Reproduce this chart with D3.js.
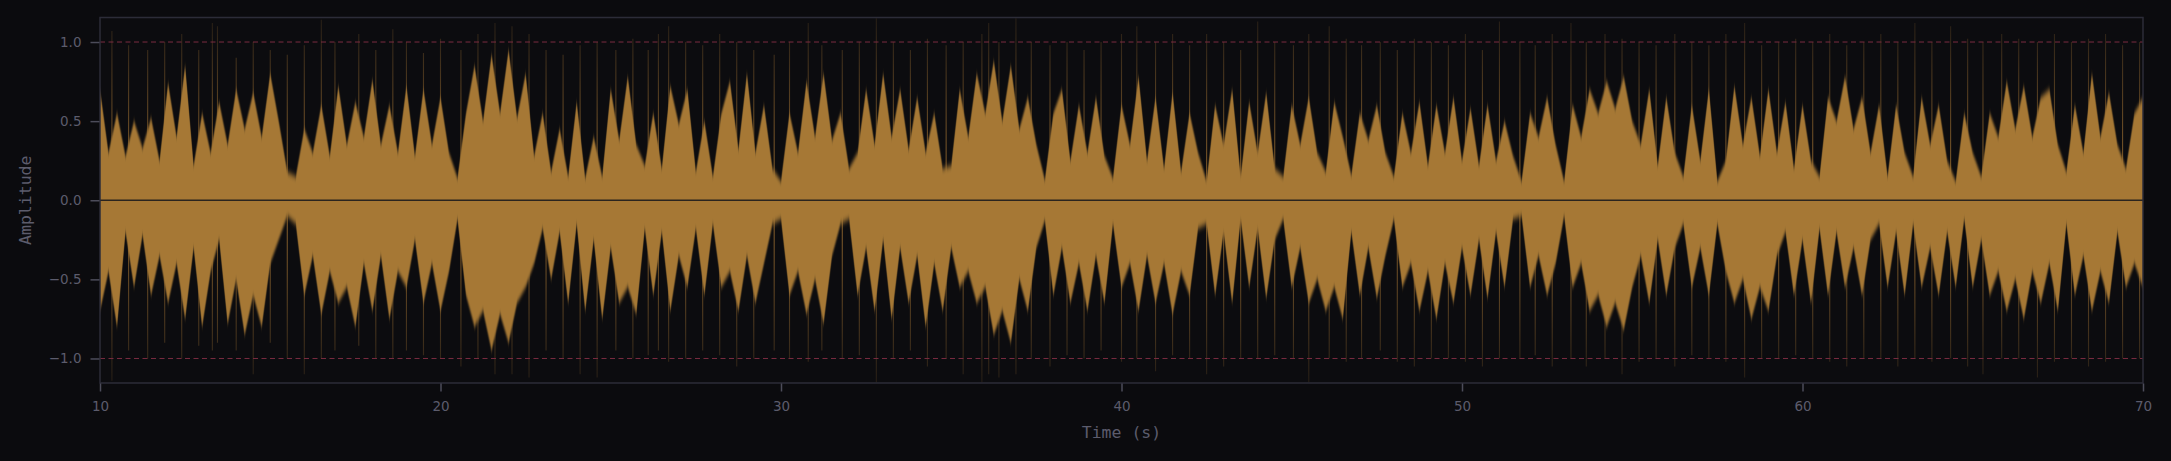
<!DOCTYPE html>
<html><head><meta charset="utf-8">
<script src="https://cdn.jsdelivr.net/npm/d3@7"></script>
<style>html,body{margin:0;padding:0;background:#0b0b0e;} svg{display:block}</style>
</head><body>
<svg id="chart" width="2171" height="461"></svg>
<script>
// ---- data ----
const sampleStart = 10;      // seconds
const sampleStep = 0.25;     // seconds between envelope samples
// positive envelope (peak amplitude above zero), one row per second
const envTop = [
 .70,.30,.55,.28, .50,.33,.52,.25, .74,.40,.85,.22, .55,.30,.62,.35, .70,.45,.68,.40,
 .80,.50,.18,.15, .45,.30,.60,.28, .72,.35,.62,.40, .76,.35,.60,.30, .72,.28,.70,.35,
 .65,.30,.14,.55, .85,.50,.92,.55, .95,.52,.80,.28, .55,.18,.45,.15, .62,.14,.40,.15,
 .70,.38,.78,.35, .22,.55,.20,.72, .48,.70,.18,.50, .15,.55,.75,.32, .80,.30,.60,.20,
 .12,.55,.30,.75, .40,.80,.38,.55, .20,.30,.70,.35, .80,.40,.70,.32, .65,.30,.55,.20,
 .22,.70,.40,.80, .55,.88,.50,.85, .45,.65,.35,.13, .55,.70,.25,.60, .30,.65,.28,.14,
 .60,.35,.78,.25, .65,.20,.68,.18, .55,.30,.12,.60, .35,.70,.15,.62, .30,.68,.20,.15,
 .60,.35,.65,.30, .18,.62,.40,.16, .55,.38,.60,.30, .15,.55,.30,.62, .22,.60,.30,.65,
 .25,.58,.22,.60, .25,.50,.28,.12, .55,.40,.65,.35, .12,.60,.40,.70, .55,.75,.58,.78,
 .50,.35,.70,.22, .65,.30,.15,.60, .25,.70,.12,.25, .72,.35,.65,.28, .70,.30,.62,.20,
 .60,.25,.15,.65, .50,.78,.45,.65, .30,.60,.15,.60, .30,.15,.65,.35, .60,.25,.12,.55,
 .30,.15,.55,.40, .75,.45,.72,.40, .65,.70,.35,.18, .60,.30,.80,.40, .68,.35,.20,.55,
 .65
];
// negative envelope (peak amplitude below zero, as magnitude)
const envBot = [
 .70,.45,.80,.20, .55,.22,.60,.35, .65,.40,.75,.30, .80,.45,.25,.78, .50,.85,.60,.80,
 .40,.25,.10,.15, .60,.35,.72,.45, .65,.55,.80,.40, .70,.35,.75,.45, .55,.25,.65,.40,
 .70,.45,.12,.60, .80,.70,.95,.72, .90,.65,.55,.40, .18,.50,.20,.65, .15,.70,.25,.75,
 .30,.65,.55,.72, .18,.60,.20,.70, .35,.55,.18,.60, .15,.55,.45,.70, .35,.65,.40,.15,
 .12,.60,.45,.72, .50,.78,.35,.15, .12,.60,.30,.70, .25,.75,.30,.65, .35,.80,.40,.70,
 .30,.55,.45,.65, .55,.85,.70,.90, .50,.70,.30,.13, .60,.30,.65,.40, .70,.35,.65,.15,
 .55,.40,.70,.35, .65,.40,.72,.45, .60,.18,.15,.60, .20,.65,.12,.55, .18,.62,.25,.12,
 .55,.30,.65,.50, .70,.55,.75,.20, .60,.30,.62,.35, .12,.55,.40,.70, .45,.75,.40,.65,
 .30,.60,.25,.62, .20,.55,.12,.10, .55,.35,.60,.40, .10,.55,.40,.70, .60,.80,.65,.82,
 .55,.35,.65,.25, .60,.30,.15,.55, .30,.60,.15,.45, .65,.50,.75,.55, .70,.35,.20,.60,
 .25,.65,.18,.60, .20,.55,.30,.60, .25,.15,.55,.20, .60,.15,.55,.30, .60,.20,.55,.12,
 .55,.25,.60,.45, .70,.50,.75,.45, .65,.40,.70,.15, .60,.35,.70,.45, .65,.20,.55,.40,
 .55
];
// thin transient spikes: time, peak above zero, peak below zero (magnitude)
const clickTimes = [10.35,10.84,11.4,11.9,12.4,12.9,13.3,13.45,14.0,14.5,15.0,15.5,16.0,16.5,16.9,17.6,18.1,18.6,
 19.0,19.5,20.0,20.6,21.1,21.6,22.1,22.6,23.1,23.6,24.1,24.6,25.15,25.65,26.1,26.4,26.7,27.2,27.7,28.2,
 28.7,29.2,29.8,30.25,30.8,31.2,31.8,32.3,32.8,33.3,33.8,34.3,34.85,35.35,35.9,36.1,36.4,36.9,37.35,37.9,
 38.4,38.9,39.4,40.0,40.45,41.0,41.5,42.0,42.5,43.0,43.5,44.0,44.5,45.05,45.5,46.1,46.6,47.05,47.6,
 48.1,48.6,49.1,49.6,50.1,50.6,51.1,51.7,52.15,52.65,53.2,53.65,54.2,54.7,55.2,55.7,56.25,56.75,57.25,
 57.75,58.3,58.8,59.3,59.8,60.3,60.8,61.3,61.8,62.3,62.8,63.3,63.8,64.35,64.85,65.3,65.85,66.35,66.9,
 67.4,67.9,68.4,68.9,69.4,69.9];
const clickTop = [1.07,0.98,0.95,1.0,1.05,0.95,1.12,1.1,0.9,1.0,0.95,0.92,0.98,1.14,1.0,1.05,0.95,1.08,
 1.0,0.93,1.02,0.95,1.05,1.12,1.1,1.05,0.95,0.92,0.98,1.0,0.95,1.02,0.95,1.05,1.1,1.0,0.98,1.05,
 1.0,0.95,0.92,1.0,1.12,0.98,0.95,1.0,1.15,1.0,0.95,1.02,0.98,1.0,1.05,1.12,1.0,1.15,1.0,0.98,
 1.0,0.95,1.0,1.05,1.1,1.0,1.05,0.98,1.05,1.0,0.95,1.13,1.0,0.98,1.05,1.1,1.02,0.98,1.0,
 0.95,1.02,1.0,0.98,1.05,0.95,1.13,1.0,0.98,1.05,1.12,1.0,1.05,1.02,1.0,0.98,1.05,1.0,0.98,
 1.05,1.12,0.98,1.0,1.02,1.0,1.05,0.98,1.0,1.05,1.0,1.12,1.0,1.1,1.02,1.0,1.05,1.02,1.0,
 1.05,1.0,1.02,1.05,0.98,1.0];
const clickBot = [1.14,0.95,1.0,0.9,1.0,0.92,0.95,0.9,0.95,1.1,0.9,1.0,1.1,1.0,0.95,0.92,1.0,1.0,
 0.95,0.98,1.0,1.05,1.0,1.1,1.1,1.12,0.95,1.0,1.1,1.12,0.95,1.0,0.98,0.95,1.02,1.0,0.95,0.98,
 1.05,1.0,0.95,1.0,1.02,0.95,1.0,0.98,1.15,1.0,0.95,1.05,1.0,1.1,1.15,1.1,1.12,1.1,1.0,1.05,
 0.98,1.0,0.95,1.02,1.0,1.08,0.98,1.0,1.1,1.05,1.0,1.0,0.98,1.0,1.15,1.0,1.02,1.0,0.95,
 1.02,1.05,1.0,1.0,1.02,1.05,1.0,1.0,0.98,1.05,1.0,1.05,1.0,1.1,1.02,1.0,1.05,0.98,1.0,
 1.02,1.12,1.0,1.0,0.98,1.0,1.02,1.05,1.0,1.0,1.05,1.0,1.02,1.0,1.05,1.1,1.0,1.0,1.12,
 1.02,1.0,1.05,1.02,1.0,1.0];
const xTickValues = [10,20,30,40,50,60,70];
const yTickValues = [-1.0,-0.5,0.0,0.5,1.0];
const refLevels = [1.0,-1.0];
const xTitle = "Time (s)";
const yTitle = "Amplitude";

// ---- layout ----
const W = 2171, H = 461;
const m = {left:100, right:28, top:17.5, bottom:78};
const svg = d3.select("#chart");
svg.append("rect").attr("width",W).attr("height",H).attr("fill","#0b0b0e");

const x = d3.scaleLinear().domain([10,70]).range([m.left, W-m.right]);
const y = d3.scaleLinear().domain([-1.155,1.155]).range([H-m.bottom, m.top]);

const samples = envTop.map((v,i)=>({t: sampleStart + i*sampleStep, top: v, bot: envBot[i]}));

const defs = svg.append("defs");
defs.append("clipPath").attr("id","plotClip").append("rect")
  .attr("x",m.left).attr("y",m.top).attr("width",W-m.left-m.right).attr("height",H-m.top-m.bottom);
defs.append("filter").attr("id","soft").attr("x","-2%").attr("y","-10%").attr("width","104%").attr("height","120%")
  .append("feGaussianBlur").attr("stdDeviation","0.5 3");
const grad = defs.append("linearGradient").attr("id","spikeGrad")
  .attr("gradientUnits","userSpaceOnUse").attr("x1",0).attr("x2",0)
  .attr("y1",y(1.155)).attr("y2",y(-1.155));
[[0,0.15],[0.3,0.55],[0.5,0.75],[0.7,0.55],[1,0.15]].forEach(([o,a])=>
  grad.append("stop").attr("offset",o).attr("stop-color","#b07c36").attr("stop-opacity",a));

// plot background
svg.append("rect").attr("x",m.left).attr("y",m.top).attr("width",W-m.left-m.right)
  .attr("height",H-m.top-m.bottom).attr("fill","#0c0c0f");

const g = svg.append("g").attr("clip-path","url(#plotClip)");

// thin transient spikes
g.append("g").selectAll("line").data(clickTimes).join("line")
  .attr("x1",d=>x(d)).attr("x2",d=>x(d))
  .attr("y1",(d,i)=>y(clickTop[i])).attr("y2",(d,i)=>y(-clickBot[i]))
  .attr("stroke","url(#spikeGrad)").attr("stroke-width",1.1);

// waveform body
const area = d3.area()
  .x(d=>x(d.t)).y0(d=>y(-d.bot)).y1(d=>y(d.top)).curve(d3.curveLinear);
g.append("path").datum(samples).attr("d",area)
  .attr("fill","#a67834").attr("filter","url(#soft)");

// reference lines at +/-1
g.selectAll("line.ref").data(refLevels).join("line").attr("class","ref")
  .attr("x1",m.left).attr("x2",W-m.right).attr("y1",d=>y(d)).attr("y2",d=>y(d))
  .attr("stroke","#7a2c40").attr("stroke-width",1).attr("stroke-dasharray","5,3.5");

// zero line
g.append("line").attr("x1",m.left).attr("x2",W-m.right).attr("y1",y(0)).attr("y2",y(0))
  .attr("stroke","#2a241e").attr("stroke-width",1.5);

// frame
svg.append("rect").attr("x",m.left).attr("y",m.top).attr("width",W-m.left-m.right)
  .attr("height",H-m.top-m.bottom).attr("fill","none").attr("stroke","#2c2c38").attr("stroke-width",1.5);

// axes
const tickCol = "#4c4c5a", textCol = "#5c5c6c";
const xAxis = d3.axisBottom(x).tickValues(xTickValues).tickFormat(d3.format("d")).tickSize(8).tickPadding(10);
const gx = svg.append("g").attr("transform",`translate(0,${H-m.bottom+0.5})`).call(xAxis);
const yAxis = d3.axisLeft(y).tickValues(yTickValues).tickFormat(d3.format(".1f")).tickSize(9).tickPadding(9);
const gy = svg.append("g").attr("transform",`translate(${m.left-0.5},0)`).call(yAxis);
[gx,gy].forEach(a=>{
  a.select(".domain").remove();
  a.selectAll(".tick line").attr("stroke",tickCol).attr("stroke-width",1.5);
  a.selectAll(".tick text").attr("fill",textCol).attr("font-family","'DejaVu Sans', sans-serif").attr("font-size",13.5);
});

svg.append("text").attr("x",(m.left+W-m.right)/2).attr("y",438).attr("text-anchor","middle")
  .attr("fill",textCol).attr("font-family","'DejaVu Sans Mono', monospace").attr("font-size",16.5).text(xTitle);
svg.append("text").attr("transform",`translate(31,${(m.top+H-m.bottom)/2}) rotate(-90)`).attr("text-anchor","middle")
  .attr("fill",textCol).attr("font-family","'DejaVu Sans Mono', monospace").attr("font-size",16.5).text(yTitle);
</script>
</body></html>
